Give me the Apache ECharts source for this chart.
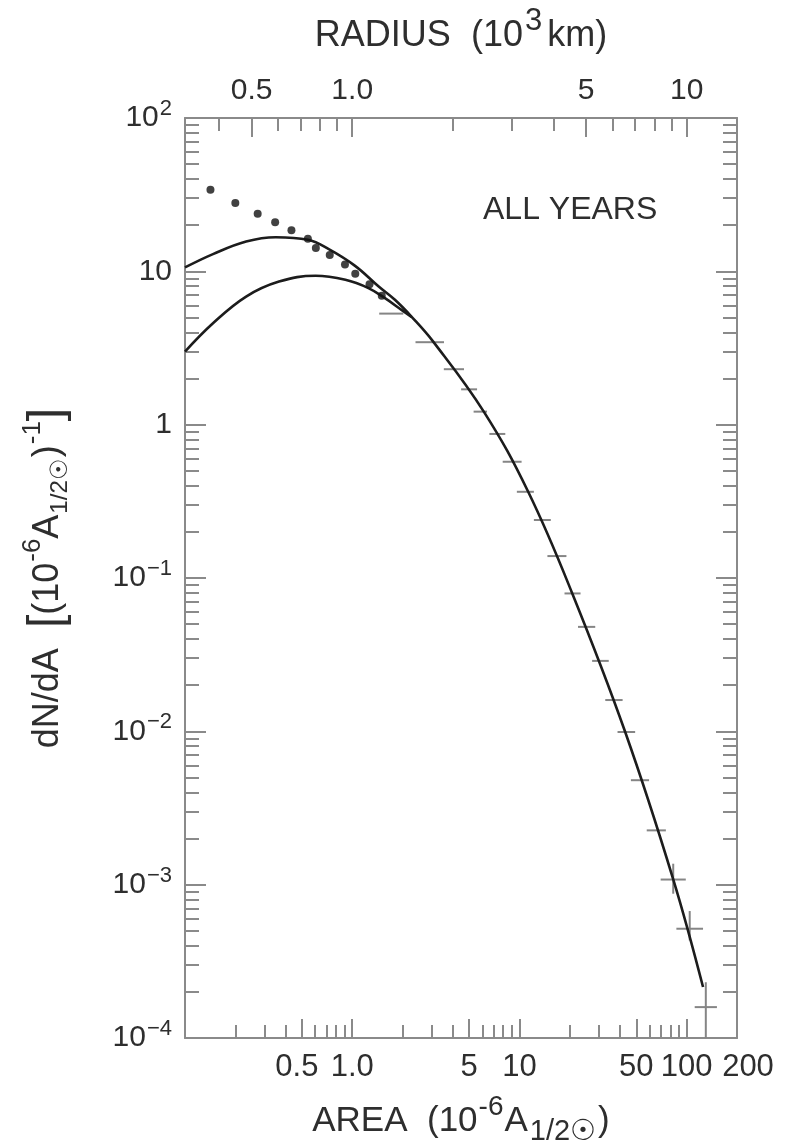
<!DOCTYPE html>
<html>
<head>
<meta charset="utf-8">
<title>Sunspot area distribution, all years</title>
<script src="https://cdn.jsdelivr.net/npm/echarts@6.0.0/dist/echarts.min.js"></script>
<style>
  html, body { margin: 0; padding: 0; background: #fff; }
  #chart { width: 798px; height: 1144px; }
</style>
</head>
<body>
<div id="chart"></div>
<script>
// area in 10^-6 of the solar hemisphere, dN/dA in (10^-6 A1/2)^-1
const AREA_MIN = 0.1;
const AREA_MAX = 200;
const Y_MIN = 1e-4;
const Y_MAX = 100;

// filled dots (small spots)
const dotArea = [0.142, 0.2, 0.272, 0.346, 0.433, 0.543, 0.606, 0.734, 0.905, 1.043, 1.269, 1.502];
const dotValue = [34.0, 27.9, 23.7, 20.9, 18.5, 16.3, 14.2, 12.8, 11.1, 9.63, 8.25, 6.92];

// upper fitted curve, runs on through the whole tail
const upperArea = [0.1, 0.147, 0.232, 0.349, 0.543, 0.724, 1.04, 1.44, 1.80, 2.26, 3.05, 6.12,
  11.28, 20.7, 42.9, 83.2, 125.3];
const upperValue = [10.6, 12.95, 15.65, 16.7, 16.05, 13.96, 10.86, 7.96, 6.52, 5.07, 3.48, 1.216,
  0.365, 0.0793, 0.0099, 0.00108, 0.000215];

// lower fitted curve, joins the upper one near A = 2
const lowerArea = [0.1, 0.147, 0.232, 0.365, 0.604, 0.91, 1.25, 1.57, 1.97, 2.26];
const lowerValue = [3.0, 4.59, 6.85, 8.58, 9.35, 8.80, 7.77, 6.68, 5.61, 5.05];

// binned counts: bin edges, value, vertical error range
const crossLow = [1.45, 2.39, 3.53, 4.48, 5.32, 6.61, 7.94, 9.65, 12.2, 14.7, 18.6, 22.4, 27.2, 32.6,
  38.6, 46.4, 57.7, 69.9, 86.8, 111.7];
const crossHigh = [2.02, 3.54, 4.66, 5.58, 6.40, 8.23, 10.3, 12.2, 15.4, 19.1, 23.2, 28.4, 34.2, 41.4,
  49.2, 59.6, 75.1, 98.8, 125.3, 151.7];
const crossValue = [5.3, 3.45, 2.30, 1.70, 1.216, 0.87, 0.573, 0.365, 0.239, 0.139, 0.0793, 0.048,
  0.0288, 0.0160, 0.0099, 0.0048, 0.00226, 0.00108, 0.000516, 0.000159];
const errLow = [5.3, 3.45, 2.30, 1.70, 1.216, 0.87, 0.573, 0.365, 0.239, 0.139, 0.0793, 0.048,
  0.0288, 0.0160, 0.0099, 0.0048, 0.00226, 0.000873, 0.000433, 0.0001];
const errHigh = [5.3, 3.45, 2.30, 1.70, 1.216, 0.87, 0.573, 0.365, 0.239, 0.139, 0.0793, 0.048,
  0.0288, 0.0160, 0.0099, 0.0048, 0.00226, 0.00137, 0.000673, 0.000231];

// tick values
const areaMajor = [0.5, 1, 5, 10, 50, 100, 200];
const areaMinor = [0.2, 0.3, 0.4, 0.6, 0.7, 0.8, 0.9, 2, 3, 4, 6, 7, 8, 9, 20, 30, 40, 60, 70, 80, 90];
const radiusMajor = [0.5, 1, 5, 10];
const radiusMinor = [0.4, 0.6, 0.7, 0.8, 0.9, 2, 3, 4, 6, 7, 8, 9];
const yMajor = [1e-4, 1e-3, 1e-2, 1e-1, 1, 10, 100];
const yMantissa = [2, 3, 4, 5, 6, 7, 8, 9];

const yMinor = [];
yMajor.slice(0, -1).forEach(function (d) {
  yMantissa.forEach(function (m) { yMinor.push(+(m * d).toPrecision(3)); });
});

const FONT = '"Liberation Sans", Arial, Helvetica, sans-serif';
const TEXT = '#2e2e2e';
const FRAME = '#8a8a8a';
const CURVE = '#1c1c1c';
const CROSS = '#858585';

function zip(xs, ys) {
  return xs.map(function (x, i) { return [x, ys[i]]; });
}

// the crowded end labels sit a little outwards in the original
function areaLabel(v) {
  if (v === 0.5) return '{l|0.5}';
  if (v === 200) return '{r|200}';
  return v === 1 ? '1.0' : String(v);
}

function radiusLabel(v) {
  return v === 1 ? '1.0' : String(v);
}

function powerLabel(v) {
  const e = Math.round(Math.log10(v));
  if (e === 0) return '{b|1}';
  if (e === 1) return '{b|10}';
  return '{b|10}{s|' + String(e).replace('-', '\u2212') + '}';
}

// radius (10^3 km) of a spot ~ sqrt(area in 10^-6 hemisphere)
const R_MIN = Math.sqrt(AREA_MIN);
const R_MAX = Math.sqrt(AREA_MAX);

function tickAxis(opt) {
  return Object.assign({
    type: 'log',
    logBase: 10,
    splitLine: { show: false },
    minorTick: { show: false },
    axisLine: { show: false, onZero: false, lineStyle: { color: FRAME, width: 2 } },
    axisLabel: { show: false },
    silent: true
  }, opt);
}

function ticks(values, length) {
  return { show: true, inside: true, length: length, customValues: values,
    lineStyle: { color: FRAME, width: 2 } };
}

const chart = echarts.init(document.getElementById('chart'));

function renderCross(params, api) {
  const lo = api.value(0);
  const hi = api.value(1);
  const y = api.value(2);
  const a = api.coord([lo, y]);
  const b = api.coord([hi, y]);
  const style = { stroke: CROSS, lineWidth: 2 };
  const children = [{ type: 'line', shape: { x1: a[0], y1: a[1], x2: b[0], y2: b[1] }, style: style }];
  const eLo = api.value(3);
  const eHi = api.value(4);
  if (eHi > eLo) {
    const mid = Math.sqrt(lo * hi);
    const p = api.coord([mid, eLo]);
    const q = api.coord([mid, eHi]);
    children.push({ type: 'line', shape: { x1: p[0], y1: p[1], x2: q[0], y2: q[1] }, style: style });
  }
  return { type: 'group', children: children };
}

chart.setOption({
  animation: false,
  backgroundColor: '#fff',
  textStyle: { fontFamily: FONT, color: TEXT },
  title: {
    text: 'ALL YEARS',
    left: 478,
    top: 189,
    textStyle: { fontSize: 32, fontWeight: 'normal', color: TEXT, fontFamily: FONT }
  },
  grid: { left: 185, right: 61, top: 118, bottom: 106, outerBoundsMode: 'none', containLabel: false },
  xAxis: [
    tickAxis({
      position: 'bottom', min: AREA_MIN, max: AREA_MAX,
      axisLine: { show: true, onZero: false, lineStyle: { color: FRAME, width: 2 } },
      axisTick: ticks(areaMajor, 19),
      axisLabel: {
        show: true, customValues: areaMajor, formatter: areaLabel, fontSize: 31,
        margin: 14, color: TEXT, fontFamily: FONT,
        rich: {
          l: { fontSize: 31, padding: [0, 10, 0, 0], color: TEXT, fontFamily: FONT },
          r: { fontSize: 31, padding: [0, 0, 0, 22], color: TEXT, fontFamily: FONT }
        }
      },
      name: '{t|AREA  (10}{sup|-6}{t|A}{sub|1/2\u2609}{t|)}',
      nameLocation: 'middle',
      nameGap: 55,
      nameTextStyle: {
        color: TEXT, fontFamily: FONT,
        rich: {
          t: { fontSize: 35, lineHeight: 56, color: TEXT, fontFamily: FONT },
          sup: { fontSize: 28, verticalAlign: 'top', padding: [0, 1, 0, 1], color: TEXT, fontFamily: FONT },
          sub: { fontSize: 29, verticalAlign: 'bottom', padding: [0, 2, 3, 2], color: TEXT, fontFamily: FONT }
        }
      }
    }),
    tickAxis({ position: 'bottom', min: AREA_MIN, max: AREA_MAX, axisTick: ticks(areaMinor, 13) }),
    tickAxis({
      position: 'top', min: R_MIN, max: R_MAX,
      axisLine: { show: true, onZero: false, lineStyle: { color: FRAME, width: 2 } },
      axisTick: ticks(radiusMajor, 19),
      axisLabel: { show: true, customValues: radiusMajor, formatter: radiusLabel, fontSize: 30,
        margin: 12, color: TEXT, fontFamily: FONT },
      name: '{t|RADIUS  (10}{sup|3}{t|km)}',
      nameLocation: 'middle',
      nameGap: 52,
      nameTextStyle: {
        color: TEXT, fontFamily: FONT,
        rich: {
          t: { fontSize: 36, lineHeight: 60, color: TEXT, fontFamily: FONT },
          sup: { fontSize: 31, verticalAlign: 'top', padding: [0, 5, 0, 2], color: TEXT, fontFamily: FONT }
        }
      }
    }),
    tickAxis({ position: 'top', min: R_MIN, max: R_MAX, axisTick: ticks(radiusMinor, 13) })
  ],
  yAxis: [
    tickAxis({
      position: 'left', min: Y_MIN, max: Y_MAX,
      axisLine: { show: true, onZero: false, lineStyle: { color: FRAME, width: 2 } },
      axisTick: ticks(yMajor, 21),
      axisLabel: {
        show: true, customValues: yMajor, formatter: powerLabel, margin: 13, color: TEXT,
        rich: {
          b: { fontSize: 30, lineHeight: 40, color: TEXT, fontFamily: FONT },
          s: { fontSize: 22, verticalAlign: 'top', padding: [0, 0, 0, 1], color: TEXT, fontFamily: FONT }
        }
      },
      name: '{t|dN/dA  }{br|[}{t|(10}{sup|-6}{t|A}{sub|1/2\u2609}{t|)}{sup|-1}{br|]}',
      nameLocation: 'middle',
      nameGap: 107,
      nameTextStyle: {
        color: TEXT, fontFamily: FONT,
        rich: {
          t: { fontSize: 36, lineHeight: 60, color: TEXT, fontFamily: FONT },
          br: { fontSize: 48, lineHeight: 60, color: TEXT, fontFamily: FONT },
          sup: { fontSize: 26, verticalAlign: 'top', padding: [2, 0, 0, 1], color: TEXT, fontFamily: FONT },
          sub: { fontSize: 24, verticalAlign: 'bottom', padding: [0, 1, 6, 1], color: TEXT, fontFamily: FONT }
        }
      }
    }),
    tickAxis({ position: 'left', min: Y_MIN, max: Y_MAX, axisTick: ticks(yMinor, 14) }),
    tickAxis({
      position: 'right', min: Y_MIN, max: Y_MAX,
      axisLine: { show: true, onZero: false, lineStyle: { color: FRAME, width: 2 } },
      axisTick: ticks(yMajor, 21)
    }),
    tickAxis({ position: 'right', min: Y_MIN, max: Y_MAX, axisTick: ticks(yMinor, 14) })
  ],
  series: [
    {
      type: 'custom',
      name: 'bins',
      renderItem: renderCross,
      encode: { x: [0, 1], y: [2, 3, 4] },
      data: crossLow.map(function (lo, i) {
        return [lo, crossHigh[i], crossValue[i], errLow[i], errHigh[i]];
      }),
      clip: true,
      z: 2
    },
    {
      type: 'line',
      name: 'upper',
      data: zip(upperArea, upperValue),
      smooth: 0.4,
      symbol: 'none',
      lineStyle: { color: CURVE, width: 2.6 },
      z: 3
    },
    {
      type: 'line',
      name: 'lower',
      data: zip(lowerArea, lowerValue),
      smooth: 0.4,
      symbol: 'none',
      lineStyle: { color: CURVE, width: 2.6 },
      z: 3
    },
    {
      type: 'scatter',
      name: 'dots',
      data: zip(dotArea, dotValue),
      symbol: 'circle',
      symbolSize: 8,
      itemStyle: { color: '#111' },
      z: 4
    }
  ]
});
</script>
</body>
</html>
